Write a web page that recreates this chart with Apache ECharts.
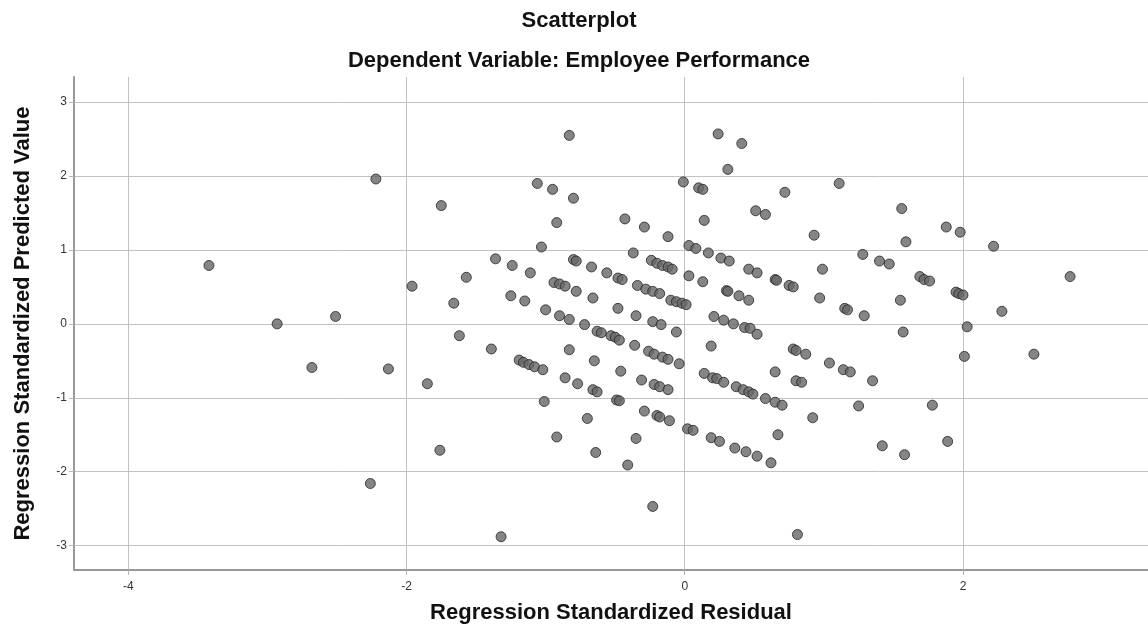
<!DOCTYPE html>
<html>
<head>
<meta charset="utf-8">
<style>
  html, body { margin: 0; padding: 0; background: #fff; }
  #chart { width: 1148px; height: 637px; }
</style>
<script src="https://cdn.jsdelivr.net/npm/echarts@6/dist/echarts.min.js"></script>
</head>
<body>
<div id="chart"></div>
<script>
// regression standardized residual (x) and predicted value (y)
const residual = [
  -3.42, -2.93, -2.68, -2.51, -2.22, -2.26, -2.13, -1.96, -1.85, -1.75,
  -1.76, -1.66, -1.62, -1.57, -1.39, -1.36, -1.32,
  -0.83, -1.06, -0.95, -0.80, -0.92, -0.43, -0.29, -0.12, -0.01, 0.10,
  -1.03, -0.37, 0.03, 0.08, -1.24, -1.11, -0.80, -0.78, -0.67, -0.56,
  -0.48, -0.45, -0.24, -0.20, -0.16, -0.12, -0.09, 0.03, -0.94, -0.90,
  -0.86, -0.78, -0.66, -0.34, -0.28, -0.23, -0.18, -0.10, -0.06, -0.02,
  0.01, -1.25, -1.15, -1.00, -0.90, -0.83, -0.72, -0.48, -0.35, -0.23,
  -0.17, -0.06,
  -0.63, -0.60, -0.53, -0.50, -0.47, -0.36, -0.26, -0.22, -0.16, -0.12,
  -0.04, -0.83, -0.65, -0.46, -1.19, -1.16, -1.12, -1.08, -1.02, -0.86,
  -0.77, -0.66, -0.63, -0.31, -0.22, -0.18, -0.12, -1.01, -0.49, -0.47,
  -0.29, -0.20, -0.18, -0.11, 0.02, 0.06, -0.70, -0.92, -0.35, -0.64,
  -0.41, -0.23,
  0.24, 0.41, 0.31, 0.13, 0.72, 1.11, 1.56, 0.51, 0.58, 0.14,
  0.93, 1.59, 0.17, 0.26, 0.32, 1.28, 1.40, 1.47, 0.99, 0.46,
  0.52, 0.65, 0.66, 0.75, 0.78, 0.13, 0.30, 0.31, 0.39, 0.46,
  0.97, 1.15, 1.17, 1.29, 1.55, 0.21, 0.28, 0.35, 0.43, 0.47,
  1.57, 0.52,
  0.19, 0.78, 0.80, 0.87, 1.04, 1.14, 1.19, 1.35, 0.65, 0.80,
  0.84, 0.14, 0.20, 0.23, 0.28, 0.37, 0.42, 0.46, 0.49, 0.58,
  0.65, 0.70, 1.25, 0.92, 0.19, 0.25, 0.36, 0.44, 0.52, 0.62,
  0.67, 1.42, 1.58, 0.81,
  1.88, 1.98, 2.22, 1.69, 1.72, 1.76, 1.95, 1.97, 2.00, 2.77,
  2.28, 2.03, 2.01, 2.51, 1.78, 1.89
];
const predicted = [
  0.79, 0.00, -0.59, 0.10, 1.96, -2.16, -0.61, 0.51, -0.81, 1.60,
  -1.71, 0.28, -0.16, 0.63, -0.34, 0.88, -2.88,
  2.55, 1.90, 1.82, 1.70, 1.37, 1.42, 1.31, 1.18, 1.92, 1.84,
  1.04, 0.96, 1.06, 1.02, 0.79, 0.69, 0.87, 0.85, 0.77, 0.69,
  0.62, 0.60, 0.86, 0.82, 0.79, 0.77, 0.74, 0.65, 0.56, 0.54,
  0.51, 0.44, 0.35, 0.52, 0.47, 0.44, 0.41, 0.32, 0.30, 0.28,
  0.26, 0.38, 0.31, 0.19, 0.11, 0.06, -0.01, 0.21, 0.11, 0.03,
  -0.01, -0.11,
  -0.10, -0.12, -0.16, -0.18, -0.22, -0.29, -0.37, -0.41, -0.45, -0.48,
  -0.54, -0.35, -0.50, -0.64, -0.49, -0.52, -0.55, -0.58, -0.62, -0.73,
  -0.81, -0.89, -0.92, -0.76, -0.82, -0.85, -0.89, -1.05, -1.03, -1.04,
  -1.18, -1.24, -1.26, -1.31, -1.42, -1.44, -1.28, -1.53, -1.55, -1.74,
  -1.91, -2.47,
  2.57, 2.44, 2.09, 1.82, 1.78, 1.90, 1.56, 1.53, 1.48, 1.40,
  1.20, 1.11, 0.96, 0.89, 0.85, 0.94, 0.85, 0.81, 0.74, 0.74,
  0.69, 0.60, 0.59, 0.52, 0.50, 0.57, 0.45, 0.44, 0.38, 0.32,
  0.35, 0.21, 0.19, 0.11, 0.32, 0.10, 0.05, 0.00, -0.05, -0.06,
  -0.11, -0.14,
  -0.30, -0.34, -0.36, -0.41, -0.53, -0.62, -0.65, -0.77, -0.65, -0.77,
  -0.79, -0.67, -0.73, -0.74, -0.79, -0.85, -0.89, -0.92, -0.95, -1.01,
  -1.06, -1.10, -1.11, -1.27, -1.54, -1.59, -1.68, -1.73, -1.79, -1.88,
  -1.50, -1.65, -1.77, -2.85,
  1.31, 1.24, 1.05, 0.64, 0.60, 0.58, 0.43, 0.41, 0.39, 0.64,
  0.17, -0.04, -0.44, -0.41, -1.10, -1.59
];
const xTicks = [-4, -2, 0, 2];
const yTicks = [-3, -2, -1, 0, 1, 2, 3];

const points = residual.map((x, i) => [x, predicted[i]]);

const font = 'Liberation Sans, Arial, sans-serif';
const chart = echarts.init(document.getElementById('chart'));

chart.setOption({
  animation: false,
  backgroundColor: '#fff',
  graphic: [
    {
      type: 'text', x: 579, y: 21,
      style: { text: 'Scatterplot', font: 'bold 22px ' + font, fill: '#111', textAlign: 'center', textVerticalAlign: 'middle' }
    },
    {
      type: 'text', x: 579, y: 61,
      style: { text: 'Dependent Variable: Employee Performance', font: 'bold 22px ' + font, fill: '#111', textAlign: 'center', textVerticalAlign: 'middle' }
    }
  ],
  grid: { left: 74, right: 0, top: 77, bottom: 67 },
  xAxis: {
    type: 'value',
    min: -4.39,
    max: 3.33,
    name: 'Regression Standardized Residual',
    nameLocation: 'middle',
    nameGap: 32,
    nameTextStyle: { fontFamily: font, fontSize: 22, fontWeight: 'bold', color: '#111' },
    axisLine: { show: true, onZero: false, lineStyle: { color: '#999', width: 2 } },
    axisTick: { show: true, length: 5, customValues: xTicks, lineStyle: { color: '#b5b5b5' } },
    axisLabel: { customValues: xTicks, margin: 11, fontFamily: font, fontSize: 12, color: '#333' },
    splitLine: { show: true, lineStyle: { color: '#c2c2c2', width: 1 } }
  },
  yAxis: {
    type: 'value',
    min: -3.33,
    max: 3.34,
    name: 'Regression Standardized Predicted Value',
    nameLocation: 'middle',
    nameGap: 40,
    nameTextStyle: { fontFamily: font, fontSize: 22, fontWeight: 'bold', color: '#111' },
    axisLine: { show: true, onZero: false, lineStyle: { color: '#999', width: 2 } },
    axisTick: { show: true, length: 5, customValues: yTicks, lineStyle: { color: '#b5b5b5' } },
    axisLabel: { customValues: yTicks, margin: 7, fontFamily: font, fontSize: 12, color: '#333' },
    splitLine: { show: true, lineStyle: { color: '#c2c2c2', width: 1 } }
  },
  series: [
    {
      type: 'scatter',
      data: points,
      symbol: 'circle',
      symbolSize: 10,
      itemStyle: { color: '#666', borderColor: '#262626', borderWidth: 1 }
    }
  ]
});
</script>
</body>
</html>
